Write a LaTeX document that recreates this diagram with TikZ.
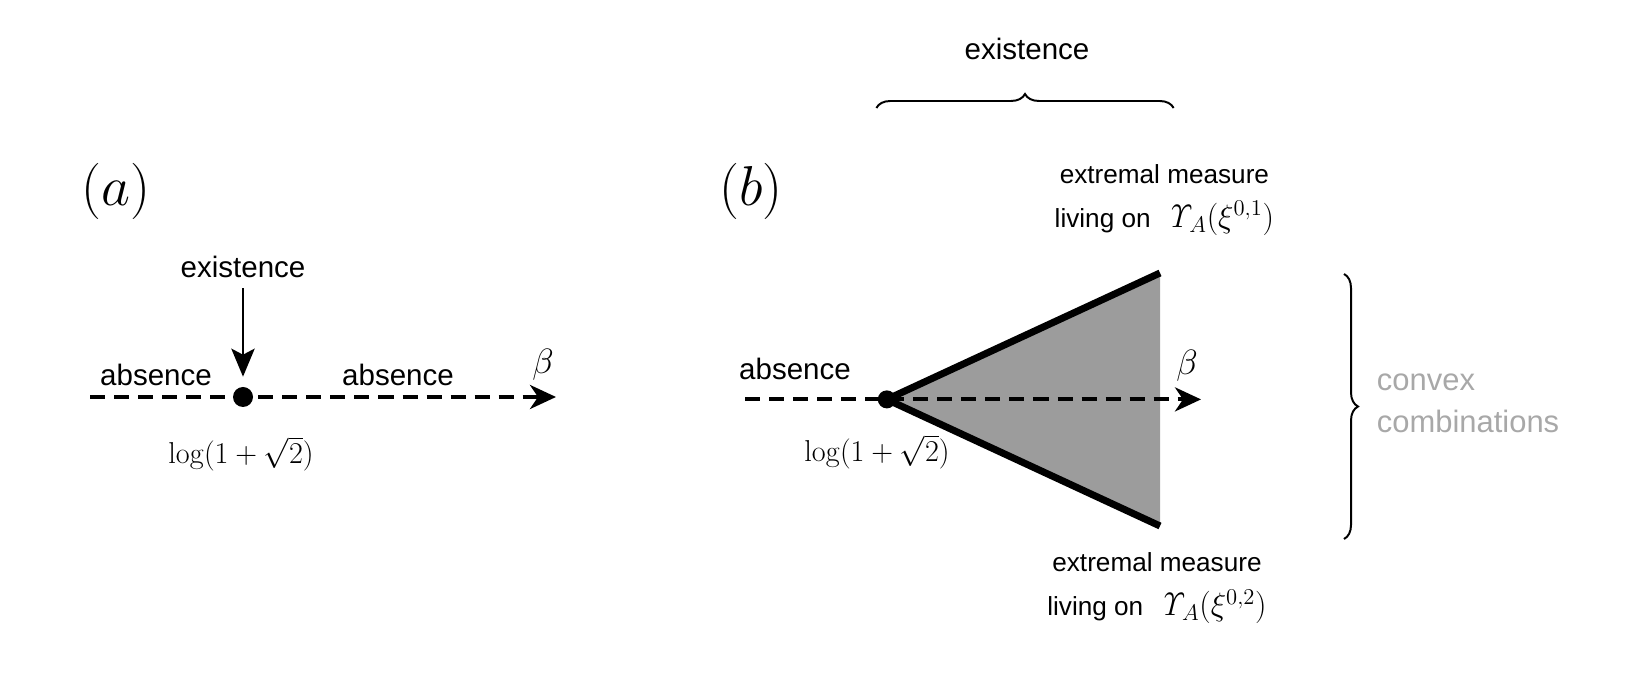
\RequirePackage{fix-cm}
\documentclass[tikz,border=0pt]{standalone}
\usepackage[no-math]{fontspec}
\setmainfont{Liberation Sans}
\usetikzlibrary{arrows.meta,decorations.pathreplacing}
\definecolor{conegray}{gray}{0.61}
\definecolor{textgray}{gray}{0.66}
\newcommand{\ymath}[1]{{\fontsize{23}{31.3}\selectfont$\mathit{\Upsilon}_A(\xi^{#1})$}}
\begin{document}
\begin{tikzpicture}[
  txt/.style={font=\fontsize{21}{25}\selectfont},
  mth/.style={font=\fontsize{21.5}{24}\selectfont},
  bmth/.style={font=\fontsize{25}{28}\selectfont},
  lbl/.style={font=\fontsize{40}{44}\selectfont},
  extxt/.style={font=\fontsize{18.6}{31.3}\selectfont,align=center},
  betaline/.style={line width=2.8pt,dash pattern=on 10.7pt off 6.4pt,-{Stealth[length=0.65cm,width=0.6cm,inset=0.2cm]}},
  downarrow/.style={line width=2.1pt,-{Stealth[length=0.7cm,width=0.58cm,inset=0.15cm]}},
  side/.style={line width=5pt},
  bdot/.style={circle,fill,inner sep=0pt,minimum size=#1},
  curly/.style={decorate,decoration={brace,amplitude=#1},line width=1.4pt}
]
\useasboundingbox (0,0) rectangle (41,17.325);
\node[lbl] (la) at (2.9,12.54) {$(a)$};
\coordinate (a0) at (2.25,7.4);
\coordinate (a1) at (13.9,7.4);
\draw[betaline] (a0) -- (a1);
\node[bdot=0.5cm] (da) at (6.075,7.4) {};
\node[txt,anchor=base] (exa) at (6.075,10.375) {existence};
\draw[downarrow,shorten <=0.13cm,shorten >=0.25cm] (exa.south) -- (da.north);
\node[txt,anchor=base] (aba1) at (3.9,7.675) {absence};
\node[txt,anchor=base] (aba2) at (9.95,7.675) {absence};
\node[bmth] (betaa) at (13.575,8.2) {$\beta$};
\node[mth] (loga) at (6.025,5.975) {$\log(1+\sqrt{2})$};
\node[lbl] (lb) at (18.775,12.54) {$(b)$};
\coordinate (apex) at (22.17,7.34);
\coordinate (tip1) at (29,10.5);
\coordinate (tip2) at (29,4.175);
\fill[conegray] (apex) -- (tip1) -- (tip2) -- cycle;
\coordinate (b0) at (18.625,7.34);
\coordinate (b1) at (30.025,7.34);
\draw[betaline] (b0) -- (b1);
\draw[side] (tip1) -- (apex) -- (tip2);
\node[bdot=0.45cm] (db) at (apex) {};
\node[txt,anchor=base] (abb) at (19.875,7.825) {absence};
\node[bmth] (betab) at (29.675,8.175) {$\beta$};
\node[mth] (logb) at (21.925,6.025) {$\log(1+\sqrt{2})$};
\node[extxt] (ext1) at (29.11,12.325) {extremal measure\\living on\ \ \ymath{0,1}};
\node[extxt] (ext2) at (28.925,2.6125) {extremal measure\\living on\ \ \ymath{0,2}};
\coordinate (e0) at (21.91,14.625);
\coordinate (e1) at (29.34,14.625);
\draw[curly=0.35cm] (e0) -- (e1);
\node[txt] (exb) at (25.675,16.1) {existence};
\coordinate (c0) at (33.6,10.475);
\coordinate (c1) at (33.6,3.85);
\draw[curly=0.35cm] (c0) -- (c1);
\node[font=\fontsize{22}{30}\selectfont,text=textgray,align=left,anchor=west] (conv) at (34.3,7.25) {convex\\combinations};
\end{tikzpicture}
\end{document}
